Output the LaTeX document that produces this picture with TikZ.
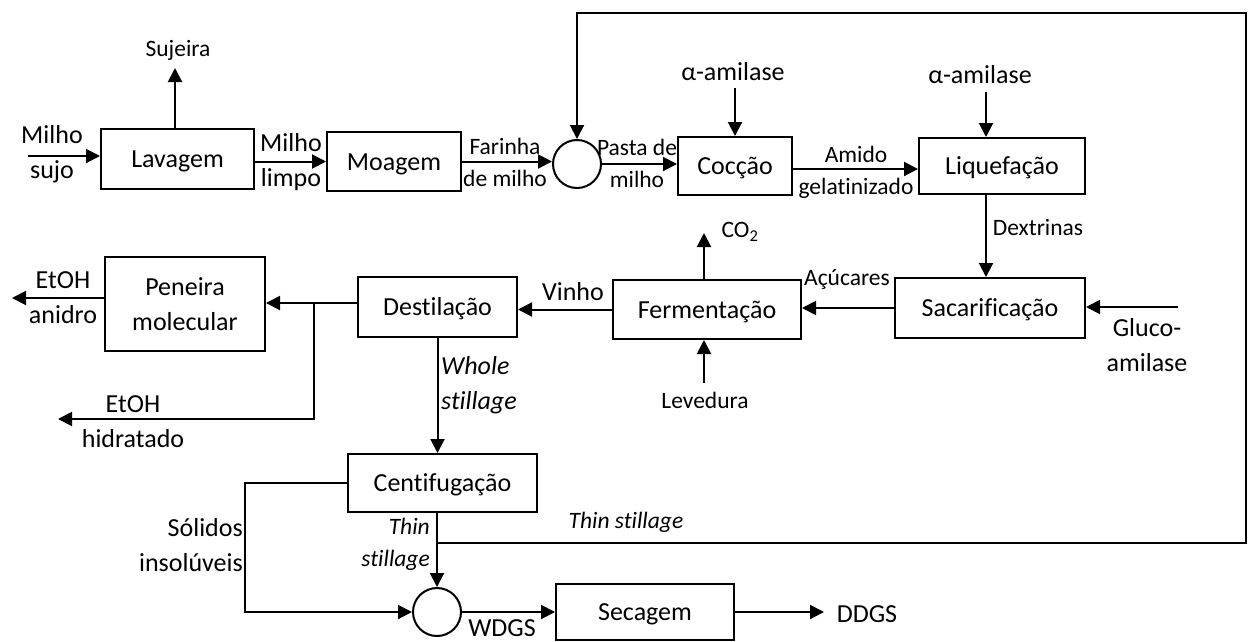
\documentclass[tikz,border=0pt]{standalone}
\usepackage{fontspec}
\setmainfont{Carlito}[Ligatures=NoCommon]
\usetikzlibrary{arrows.meta}
\begin{document}
\begin{tikzpicture}[x=1pt,y=-1pt,
  big/.style={font=\fontsize{26}{35}\selectfont},
  bigi/.style={font=\fontsize{26}{35}\selectfont\itshape},
  small/.style={font=\fontsize{23.5}{32}\selectfont},
  smalli/.style={font=\fontsize{23.5}{32}\selectfont\itshape},
  unit/.style={draw,line width=2pt,inner sep=0pt,big,align=center},
  oneline/.style={unit,text height=20pt,text depth=3pt},
  mixer/.style={draw,circle,line width=2pt,minimum size=48pt,inner sep=0pt},
  flow/.style={line width=2pt,-{Triangle[length=14pt,width=14pt]}},
  lbl/.style={inner sep=0pt,align=center}]

\useasboundingbox (0,0) rectangle (1248,641);

% process units
\node[oneline,minimum width=153pt,minimum height=60pt] (lav) at (177.5,159) {Lavagem};
\node[oneline,minimum width=134pt,minimum height=59pt] (moa) at (394,161.5) {Moagem};
\node[mixer] (mix1) at (577,164) {};
\node[oneline,minimum width=114pt,minimum height=58pt] (coc) at (735,166) {Cocção};
\node[oneline,minimum width=166pt,minimum height=56pt] (liq) at (1002,166) {Liquefação};
\node[oneline,minimum width=190pt,minimum height=60pt] (sac) at (990,308) {Sacarificação};
\node[oneline,minimum width=188pt,minimum height=59pt] (fer) at (707,309.5) {Fermentação};
\node[oneline,minimum width=159pt,minimum height=60pt] (des) at (437.5,307) {Destilação};
\node[unit,minimum width=160pt,minimum height=94pt] (pen) at (185,304) {Peneira\\molecular};
\node[oneline,minimum width=189pt,minimum height=58pt] (cen) at (442.5,483) {Centifugação};
\node[mixer] (mix2) at (437,612) {};
\node[oneline,minimum width=178pt,minimum height=56pt] (sec) at (645,612) {Secagem};

% stream labels
\node[lbl,small] (tsuj) at (178,50) {Sujeira};
\node[lbl,big] (tmsujo) at (52,154.5) {Milho\\sujo};
\node[lbl,big] (tmlimpo) at (291,162.5) {Milho\\limpo};
\node[lbl,small] (tfar) at (505,162.5) {Farinha\\de milho};
\node[lbl,small] (tpasta) at (637,163.5) {Pasta de\\milho};
\node[lbl,big] (talfa1) at (733,72) {α-amilase};
\node[lbl,small] (tamido) at (856,172) {Amido\\gelatinizado};
\node[lbl,big] (talfa2) at (980,75) {α-amilase};
\node[lbl,small] (tdex) at (1038,227) {Dextrinas};
\node[lbl,big] (tgluco) at (1147,345) {Gluco-\\amilase};
\node[lbl,small] (tacu) at (847,279) {Açúcares};
\node[lbl,small] (tco2) at (740,232) {CO\textsubscript{2}};
\node[lbl,small] (tlev) at (705,400) {Levedura};
\node[lbl,big] (tvinho) at (573,292) {Vinho};
\node[lbl,big] (tanidro) at (63,298) {EtOH\\anidro};
\node[lbl,big] (thid) at (133,421.5) {EtOH\\hidratado};
\node[lbl,bigi,anchor=west,align=left] (twhole) at (441,385.5) {Whole\\stillage};
\node[lbl,big,anchor=east,align=right] (tsol) at (243,545.5) {Sólidos\\insolúveis};
\node[lbl,smalli,anchor=east,align=right] (tthin1) at (430,544) {Thin\\stillage};
\node[lbl,smalli] (tthin2) at (626,522) {Thin stillage};
\node[lbl,big,anchor=base] (twdgs) at (502,636) {WDGS};
\node[lbl,big] (tddgs) at (867,614) {DDGS};

% free ends and branch points
\coordinate (in1) at (28,156);
\coordinate (dirt) at (175,68);
\coordinate (alf1) at (735,88);
\coordinate (alf2) at (986,92);
\coordinate (glu) at (1178,307);
\coordinate (co2) at (704,233);
\coordinate (yeast) at (704,383);
\coordinate (anid) at (12,298);
\coordinate (split) at (314,303);
\coordinate (hidr) at (58,419);
\coordinate (solc) at (245,612);
\coordinate (thinsplit) at (438,543);
\coordinate (corner) at (1246,13);
\coordinate (ddgs) at (824,612);

% streams
\draw[flow] (in1) -- (in1 -| lav.west);
\draw[flow] (lav.north -| dirt) -- (dirt);
\draw[flow] (lav.east |- moa.west) -- (moa.west);
\draw[flow] (moa.east) -- (moa.east -| mix1.west);
\draw[flow] (mix1.east) -- (mix1.east -| coc.west);
\draw[flow] (alf1) -- (alf1 |- coc.north);
\draw[flow] ([yshift=-3pt]coc.east) -- ([yshift=-3pt]liq.west);
\draw[flow] (alf2) -- (alf2 |- liq.north);
\draw[flow] (liq.south -| alf2) -- (alf2 |- sac.north);
\draw[flow] (glu) -- (glu -| sac.east);
\draw[flow] (sac.west) -- (sac.west -| fer.east);
\draw[flow] (fer.north -| co2) -- (co2);
\draw[flow] (yeast) -- (yeast |- fer.south);
\draw[flow] (fer.west) -- (fer.west -| des.east);
\draw[flow] (des.west |- split) -- (split -| pen.east);
\draw[flow] (split) |- (hidr);
\draw[flow] (pen.west |- anid) -- (anid);
\draw[flow] (des.south) -- (des.south |- cen.north);
\draw[flow] (cen.west) -| (solc) -- (mix2.west);
\draw[flow] (cen.south -| mix2.north) -- (mix2.north);
\draw[flow] (mix2.north |- thinsplit) -| (corner) -| (mix1.north);
\draw[flow] (mix2.east) -- (sec.west);
\draw[flow] (sec.east) -- (ddgs);
\end{tikzpicture}
\end{document}
